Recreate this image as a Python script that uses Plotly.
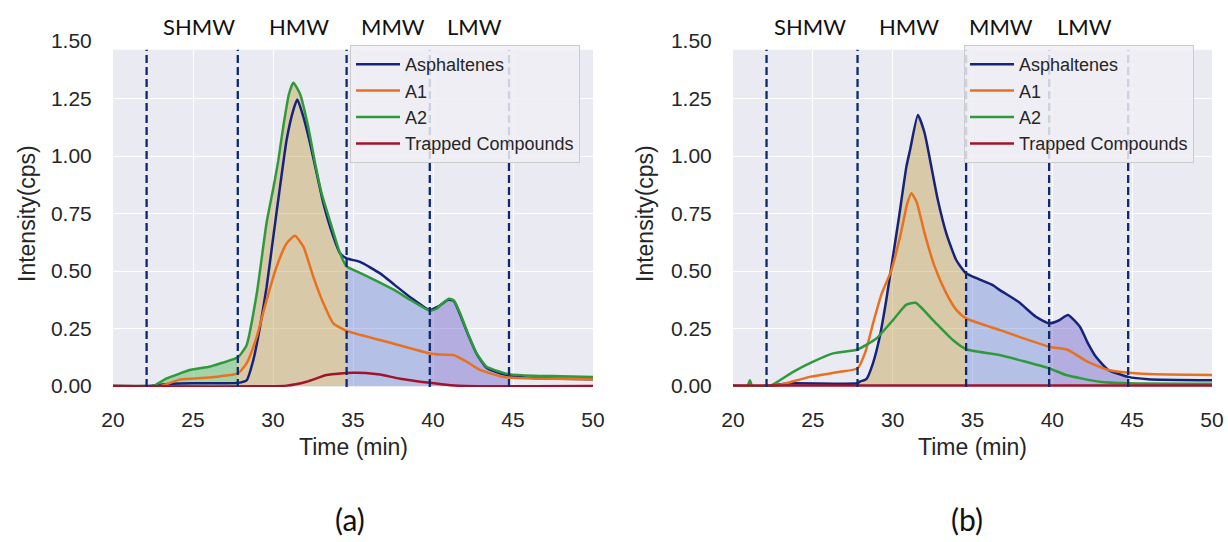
import numpy as np
import plotly.graph_objects as go

W, H = 1228, 542

# ---------------- data ----------------
region_bounds = [22.1, 27.8, 34.6, 39.8, 44.75]
region_names = ["SHMW", "HMW", "MMW", "LMW"]
label_x_a = [25.4, 31.6, 37.5, 42.6]
label_x_b = [24.8, 31.0, 36.8, 42.0]
x_ticks = [20, 25, 30, 35, 40, 45, 50]
y_ticks = [0.0, 0.25, 0.5, 0.75, 1.0, 1.25, 1.5]
series_names = ["Asphaltenes", "A1", "A2", "Trapped Compounds"]

# Panel (a)
a_asph_t = [20, 22.1, 23.7, 25.0, 27.0, 27.8, 28.35, 28.77, 29.19, 29.6, 30.02, 30.44, 30.85, 31.27, 31.52,
            31.9, 32.3, 32.73, 33.15, 33.77, 34.19, 34.6, 35.44, 36.69, 37.6, 38.6, 39.8, 40.3, 40.96, 41.3,
            41.7, 42.1, 42.73, 43.35, 44.2, 44.75, 46.25, 48.0, 50.0]
a_asph_v = [0, 0, 0.010, 0.012, 0.012, 0.014, 0.025, 0.113, 0.258, 0.43, 0.65, 0.867, 1.07, 1.20, 1.246,
            1.17, 1.06, 0.925, 0.794, 0.65, 0.577, 0.555, 0.54, 0.49, 0.44, 0.385, 0.33, 0.345, 0.375, 0.37,
            0.31, 0.24, 0.14, 0.08, 0.055, 0.045, 0.035, 0.032, 0.03]
a_a1_t = [20, 22.9, 24.19, 26.0, 27.8, 28.35, 28.98, 29.6, 30.23, 30.85, 31.37, 31.9, 32.52, 33.15, 33.77,
          34.6, 36.69, 37.5, 39.8, 40.5, 41.27, 42.1, 42.94, 44.2, 44.75, 46.25, 50.0]
a_a1_v = [0, 0, 0.028, 0.037, 0.055, 0.099, 0.214, 0.374, 0.52, 0.62, 0.653, 0.606, 0.475, 0.36, 0.273,
          0.24, 0.2, 0.185, 0.142, 0.137, 0.135, 0.106, 0.07, 0.043, 0.037, 0.033, 0.03]
a_a2_t = [20, 22.1, 22.5, 23.35, 24.19, 24.8, 26.0, 26.3, 27.8, 28.35, 28.98, 29.6, 30.02, 30.33, 30.64,
          31.0, 31.27, 31.69, 32.2, 32.6, 33.04, 33.67, 34.19, 34.6, 35.5, 36.4, 37.6, 38.6, 39.8, 40.2,
          40.6, 41.0, 41.3, 41.7, 42.1, 42.73, 43.35, 44.2, 44.75, 46.25, 48.0, 50.0]
a_a2_v = [0, 0, 0.0, 0.033, 0.055, 0.07, 0.084, 0.09, 0.125, 0.178, 0.40, 0.71, 0.86, 0.98, 1.127,
          1.27, 1.319, 1.27, 1.127, 0.98, 0.838, 0.693, 0.577, 0.52, 0.49, 0.46, 0.417, 0.374, 0.328, 0.335,
          0.36, 0.38, 0.372, 0.316, 0.243, 0.142, 0.084, 0.062, 0.052, 0.045, 0.043, 0.04]
a_trap_t = [20, 30.85, 32.1, 33.35, 34.2, 35.0, 35.8, 36.7, 37.94, 39.8, 41.1, 42.0, 50.0]
a_trap_v = [0, 0.002, 0.019, 0.048, 0.055, 0.058, 0.057, 0.05, 0.032, 0.014, 0.004, 0.0, 0.0]

# Panel (b)
b_asph_t = [20, 22.1, 23.5, 27.8, 27.97, 28.35, 28.77, 29.19, 29.6, 29.92, 30.4, 30.86, 31.09, 31.58, 32.0,
            32.42, 32.83, 33.36, 33.98, 34.6, 36.27, 36.72, 37.9, 38.97, 39.8, 40.4, 40.98, 41.73, 42.2, 42.73,
            43.5, 44.75, 46.0, 50.0]
b_asph_v = [0, 0, 0.012, 0.012, 0.02, 0.03, 0.10, 0.214, 0.374, 0.519, 0.736, 0.954, 1.026, 1.178, 1.10,
            0.954, 0.809, 0.664, 0.548, 0.49, 0.439, 0.417, 0.365, 0.301, 0.273, 0.285, 0.309, 0.258, 0.19, 0.127,
            0.07, 0.04, 0.03, 0.025]
b_a1_t = [20, 22.5, 23.1, 24.8, 26.7, 27.8, 28.3, 28.8, 29.3, 29.9, 30.5, 30.9, 31.17, 31.5, 32.0,
          32.63, 33.36, 34.0, 34.6, 36.72, 39.8, 40.98, 42.2, 43.5, 44.8, 46.0, 50.0]
b_a1_v = [0, 0, 0.008, 0.04, 0.062, 0.077, 0.15, 0.28, 0.40, 0.50, 0.66, 0.79, 0.838, 0.80, 0.664,
          0.519, 0.403, 0.33, 0.294, 0.243, 0.171, 0.157, 0.106, 0.07, 0.058, 0.052, 0.048]
b_a2_t = [20, 20.9, 21.06, 21.2, 22.3, 23.77, 25.02, 26.27, 27.8, 28.98, 30.02, 30.86, 31.44, 32.52, 33.77,
          34.6, 36.7, 39.8, 40.86, 42.94, 44.75, 50.0]
b_a2_v = [0, 0, 0.025, 0, 0, 0.062, 0.106, 0.142, 0.159, 0.207, 0.287, 0.354, 0.362, 0.287, 0.2,
          0.16, 0.135, 0.077, 0.048, 0.019, 0.012, 0.01]
b_trap_t = [20, 50.0]
b_trap_v = [0.002, 0.002]

# ---------------- style ----------------
series_colors = ["#16237a", "#e8711f", "#2f9a3c", "#a3122c"]
region_fill = ["rgba(50,170,50,0.38)", "rgba(195,165,80,0.45)",
               "rgba(100,130,210,0.40)", "rgba(105,90,200,0.42)"]
BG = "#EAEAF2"
TXT = "#262626"
FONT = "Liberation Sans, Arial, sans-serif"
LBL_FONT = "Lato, Open Sans, sans-serif"

PLOT_TOP, PLOT_BOT = 41, 387
XA = (113, 593)
XB = (733, 1212)


def px(x):
    return x / W


def py(y):
    return 1 - y / H


fig = go.Figure()

panels = [
    dict(xa="x", ya="y", legend="legend",
         series=[(a_asph_t, a_asph_v), (a_a1_t, a_a1_v), (a_a2_t, a_a2_v), (a_trap_t, a_trap_v)],
         fill=(a_a2_t, a_a2_v)),
    dict(xa="x2", ya="y2", legend="legend2",
         series=[(b_asph_t, b_asph_v), (b_a1_t, b_a1_v), (b_a2_t, b_a2_v), (b_trap_t, b_trap_v)],
         fill=(b_asph_t, b_asph_v)),
]

SMOOTH = 0.5
for p in panels:
    ft = np.array(p["fill"][0], dtype=float)
    fv = np.array(p["fill"][1], dtype=float)
    for i in range(4):
        lo, hi = region_bounds[i], region_bounds[i + 1]
        m = (ft >= lo - 1e-9) & (ft <= hi + 1e-9)
        fig.add_trace(go.Scatter(x=ft[m], y=fv[m], mode="lines",
                                 line=dict(width=0, shape="spline", smoothing=SMOOTH),
                                 fill="tozeroy", fillcolor=region_fill[i],
                                 xaxis=p["xa"], yaxis=p["ya"], showlegend=False, hoverinfo="skip"))
    for (t, v), name, col in zip(p["series"], series_names, series_colors):
        fig.add_trace(go.Scatter(x=t, y=v, mode="lines", name=name,
                                 line=dict(color=col, width=2.5, shape="spline", smoothing=SMOOTH),
                                 xaxis=p["xa"], yaxis=p["ya"], legend=p["legend"],
                                 legendgroup=p["legend"] + name))

axis_common = dict(showgrid=True, gridcolor="white", gridwidth=1.3, zeroline=False, showline=False,
                   ticks="outside", tickcolor="rgba(0,0,0,0)", automargin=False,
                   tickfont=dict(family=FONT, size=21, color=TXT))

legend_common = dict(xanchor="left", yanchor="top", itemwidth=44,
                     bgcolor="rgba(238,238,244,0.85)", bordercolor="#cccccc", borderwidth=1,
                     font=dict(family=FONT, size=18, color=TXT), tracegroupgap=0)

fig.update_layout(
    width=W, height=H, margin=dict(l=0, r=0, t=0, b=0, autoexpand=False),
    paper_bgcolor="white", plot_bgcolor=BG,
    xaxis=dict(domain=[px(XA[0]), px(XA[1])], range=[20, 50], tickvals=x_ticks, ticklen=14,
               anchor="y", **axis_common),
    yaxis=dict(domain=[py(PLOT_BOT), py(PLOT_TOP)], range=[-0.004, 1.5], tickvals=y_ticks,
               tickformat=".2f", ticklen=16, anchor="x", **axis_common),
    xaxis2=dict(domain=[px(XB[0]), px(XB[1])], range=[20, 50], tickvals=x_ticks, ticklen=14,
                anchor="y2", **axis_common),
    yaxis2=dict(domain=[py(PLOT_BOT), py(PLOT_TOP)], range=[-0.004, 1.5], tickvals=y_ticks,
                tickformat=".2f", ticklen=16, anchor="x2", **axis_common),
    legend=dict(x=px(350), y=py(45), **legend_common),
    legend2=dict(x=px(964), y=py(45), **legend_common),
    showlegend=True,
)

shapes = []
for xr, yr in (("x", "y"), ("x2", "y2")):
    for b in region_bounds:
        shapes.append(dict(type="line", xref=xr, yref=yr + " domain", x0=b, x1=b, y0=0, y1=1,
                           line=dict(color="#0e2a6c", width=2.3, dash="8px,4px"), layer="above"))
for xr, yr in (("x", "y"), ("x2", "y2")):
    shapes.append(dict(type="rect", xref=xr + " domain", yref=yr, x0=-0.002, x1=1.002, y0=1.462, y1=1.52,
                       fillcolor="white", line=dict(width=0), layer="above"))
fig.update_layout(shapes=shapes)

ann = []
for xs, xr in ((label_x_a, "x"), (label_x_b, "x2")):
    for name, xv in zip(region_names, xs):
        ann.append(dict(x=xv, y=py(27), xref=xr, yref="paper", text=name, showarrow=False,
                        xanchor="center", yanchor="middle",
                        font=dict(family=LBL_FONT, size=22, color="#111111")))
for cx in (27, 645):
    ann.append(dict(x=px(cx), y=py((PLOT_TOP + PLOT_BOT) / 2), xref="paper", yref="paper",
                    text="Intensity(cps)", textangle=-90, showarrow=False,
                    xanchor="center", yanchor="middle",
                    font=dict(family=FONT, size=23, color=TXT)))
for cx in ((XA[0] + XA[1]) / 2, (XB[0] + XB[1]) / 2):
    ann.append(dict(x=px(cx), y=py(447), xref="paper", yref="paper", text="Time (min)",
                    showarrow=False, xanchor="center", yanchor="middle",
                    font=dict(family=FONT, size=23, color=TXT)))
for cx, t in ((350, "(a)"), (967, "(b)")):
    ann.append(dict(x=px(cx), y=py(519), xref="paper", yref="paper", text=t, showarrow=False,
                    xanchor="center", yanchor="middle",
                    font=dict(family=LBL_FONT, size=30, color="#111111")))
fig.update_layout(annotations=ann)

fig.write_html("out.html")
